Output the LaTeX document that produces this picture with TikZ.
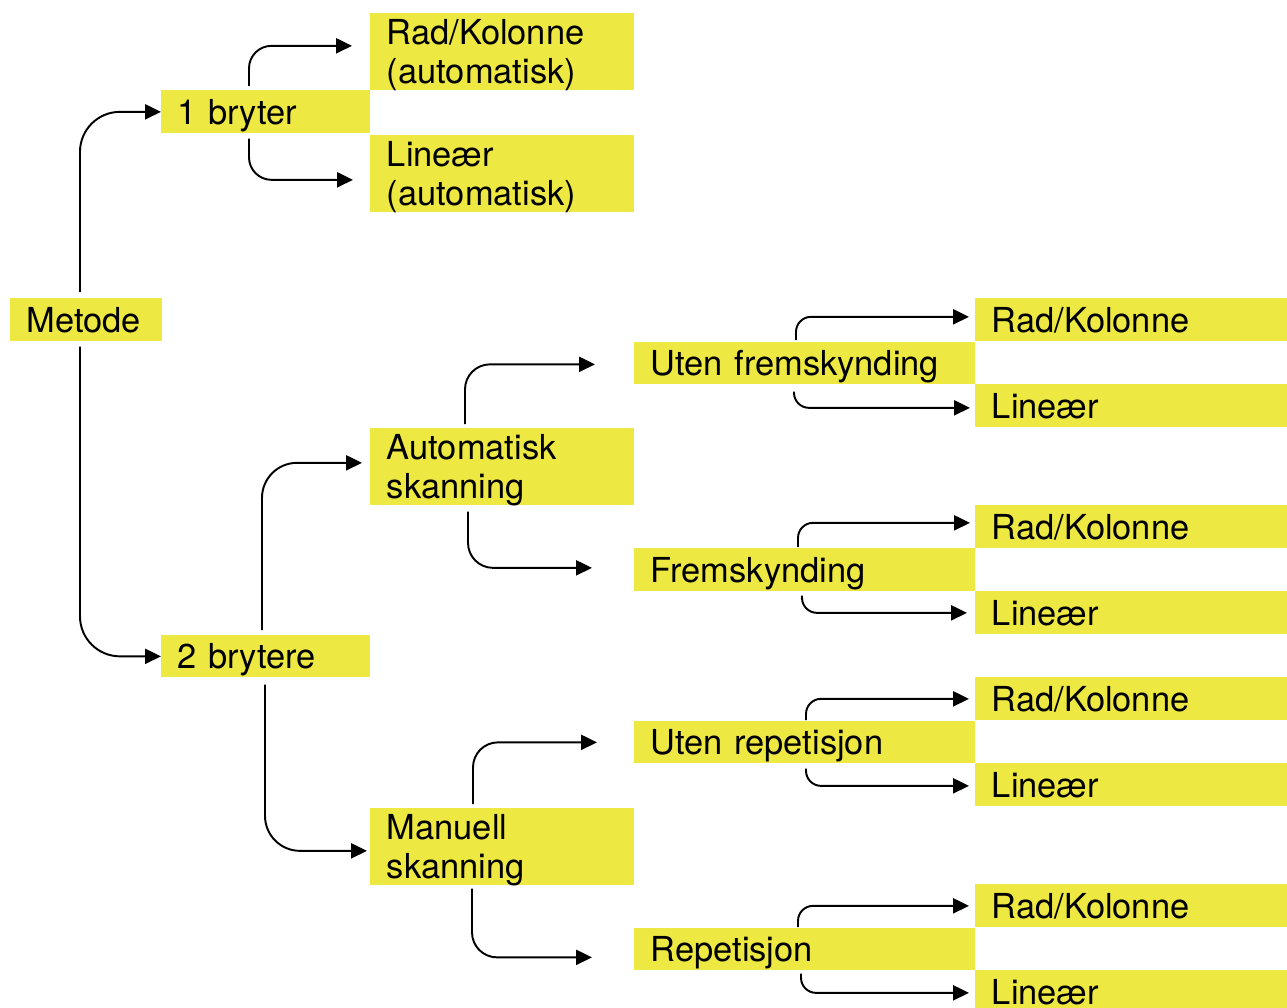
\documentclass[tikz,border=0pt]{standalone}
\usepackage{fontspec}
\setmainfont{TeX Gyre Heros}
\usetikzlibrary{arrows.meta,calc}
\definecolor{boxyellow}{RGB}{237,232,66}
\newcommand{\boksfont}{\fontsize{19.6pt}{22pt}\selectfont}

\begin{document}
\begin{tikzpicture}[x=0.02cm,y=-0.02cm,
  boks/.style={fill=boxyellow,anchor=north west,inner xsep=0.33cm,inner ysep=0pt,
    align=left,font=\boksfont,text height=14pt,text depth=0pt,minimum height=0.86cm},
  tolinjer/.style={minimum height=1.54cm,text depth=22pt},
  link/.style={line width=1.1pt,-{Triangle[length=9pt,width=8.5pt]}}]
\useasboundingbox (0,0) rectangle (1287,1007);
%draw boxes, column by column
\node[boks,text width=2.38cm] (metode) at (10,298) {Metode};
\node[boks,text width=3.52cm] (bryter1) at (161,90) {1 bryter};
\node[boks,text width=3.52cm,minimum height=0.84cm] (brytere2) at (161,635) {2 brytere};
\node[boks,tolinjer,text width=4.62cm] (rkauto) at (370,13) {Rad/Kolonne\\(automatisk)};
\node[boks,tolinjer,text width=4.62cm] (linauto) at (370,135) {Lineær\\(automatisk)};
\node[boks,tolinjer,text width=4.62cm] (autosk) at (370,428) {Automatisk\\skanning};
\node[boks,tolinjer,text width=4.62cm] (mansk) at (370,808) {Manuell\\skanning};
\node[boks,text width=6.16cm,minimum height=0.84cm] (utenfr) at (634,342) {Uten fremskynding};
\node[boks,text width=6.16cm] (fremsk) at (634,548) {Fremskynding};
\node[boks,text width=6.16cm,minimum height=0.84cm] (utenrep) at (634,721) {Uten repetisjon};
\node[boks,text width=6.16cm,minimum height=0.84cm] (rep) at (634,928) {Repetisjon};
%last column: one pair per box in column three
\foreach \n/\y in {1/298,2/505,3/677,4/884}
{
  \node[boks,text width=5.58cm] (rk\n) at (975,\y) {Rad/Kolonne};
  \node[boks,text width=5.58cm] (lin\n) at (975,\y+86) {Lineær};
}
% draw arrows
\draw[link,rounded corners=0.8cm] ($(metode.north west)+(70,-6)$) |- (bryter1.west);
\draw[link,rounded corners=0.8cm] ($(metode.south west)+(70,5)$) |- (brytere2.west);
\draw[link,rounded corners=0.45cm] ($(bryter1.north west)+(88,-4)$) |- ($(rkauto.west)+(-18,-6)$);
\draw[link,rounded corners=0.45cm] ($(bryter1.south west)+(88,5)$) |- ($(linauto.west)+(-17,6)$);
\draw[link,rounded corners=0.7cm] ($(brytere2.north west)+(101,-5)$) |- ($(autosk.west)+(-8,-4)$);
\draw[link,rounded corners=0.7cm] ($(brytere2.south west)+(104,7)$) |- ($(mansk.west)+(-3,4)$);
\draw[link,rounded corners=0.5cm] ($(autosk.north west)+(95,-4)$) |- ($(utenfr.west)+(-39,1)$);
\draw[link,rounded corners=0.5cm] ($(autosk.south west)+(98,6)$) |- ($(fremsk.west)+(-42,-2)$);
\draw[link,rounded corners=0.5cm] ($(mansk.north west)+(103,-4)$) |- ($(utenrep.west)+(-37,0)$);
\draw[link,rounded corners=0.5cm] ($(mansk.south west)+(102,3)$) |- ($(rep.west)+(-42,8)$);
% arrows into the last column
\draw[link,rounded corners=0.3cm] ($(utenfr.north west)+(162,-2)$) |- ($(rk1.west)+(-6,-3)$);
\draw[link,rounded corners=0.3cm] ($(utenfr.south west)+(160,7)$) |- ($(lin1.west)+(-5,2)$);
\draw[link,rounded corners=0.3cm] ($(fremsk.north west)+(164,-1)$) |- ($(rk2.west)+(-5,-4)$);
\draw[link,rounded corners=0.3cm] ($(fremsk.south west)+(168,4)$) |- ($(lin2.west)+(-8,0)$);
\draw[link,rounded corners=0.3cm] ($(utenrep.north west)+(172,-1)$) |- ($(rk3.west)+(-6,0)$);
\draw[link,rounded corners=0.3cm] ($(utenrep.south west)+(172,5)$) |- ($(lin3.west)+(-6,1)$);
\draw[link,rounded corners=0.3cm] ($(rep.north west)+(164,-1)$) |- ($(rk4.west)+(-6,0)$);
\draw[link,rounded corners=0.3cm] ($(rep.south west)+(167,3)$) |- ($(lin4.west)+(-6,1)$);
\end{tikzpicture}
\end{document}
